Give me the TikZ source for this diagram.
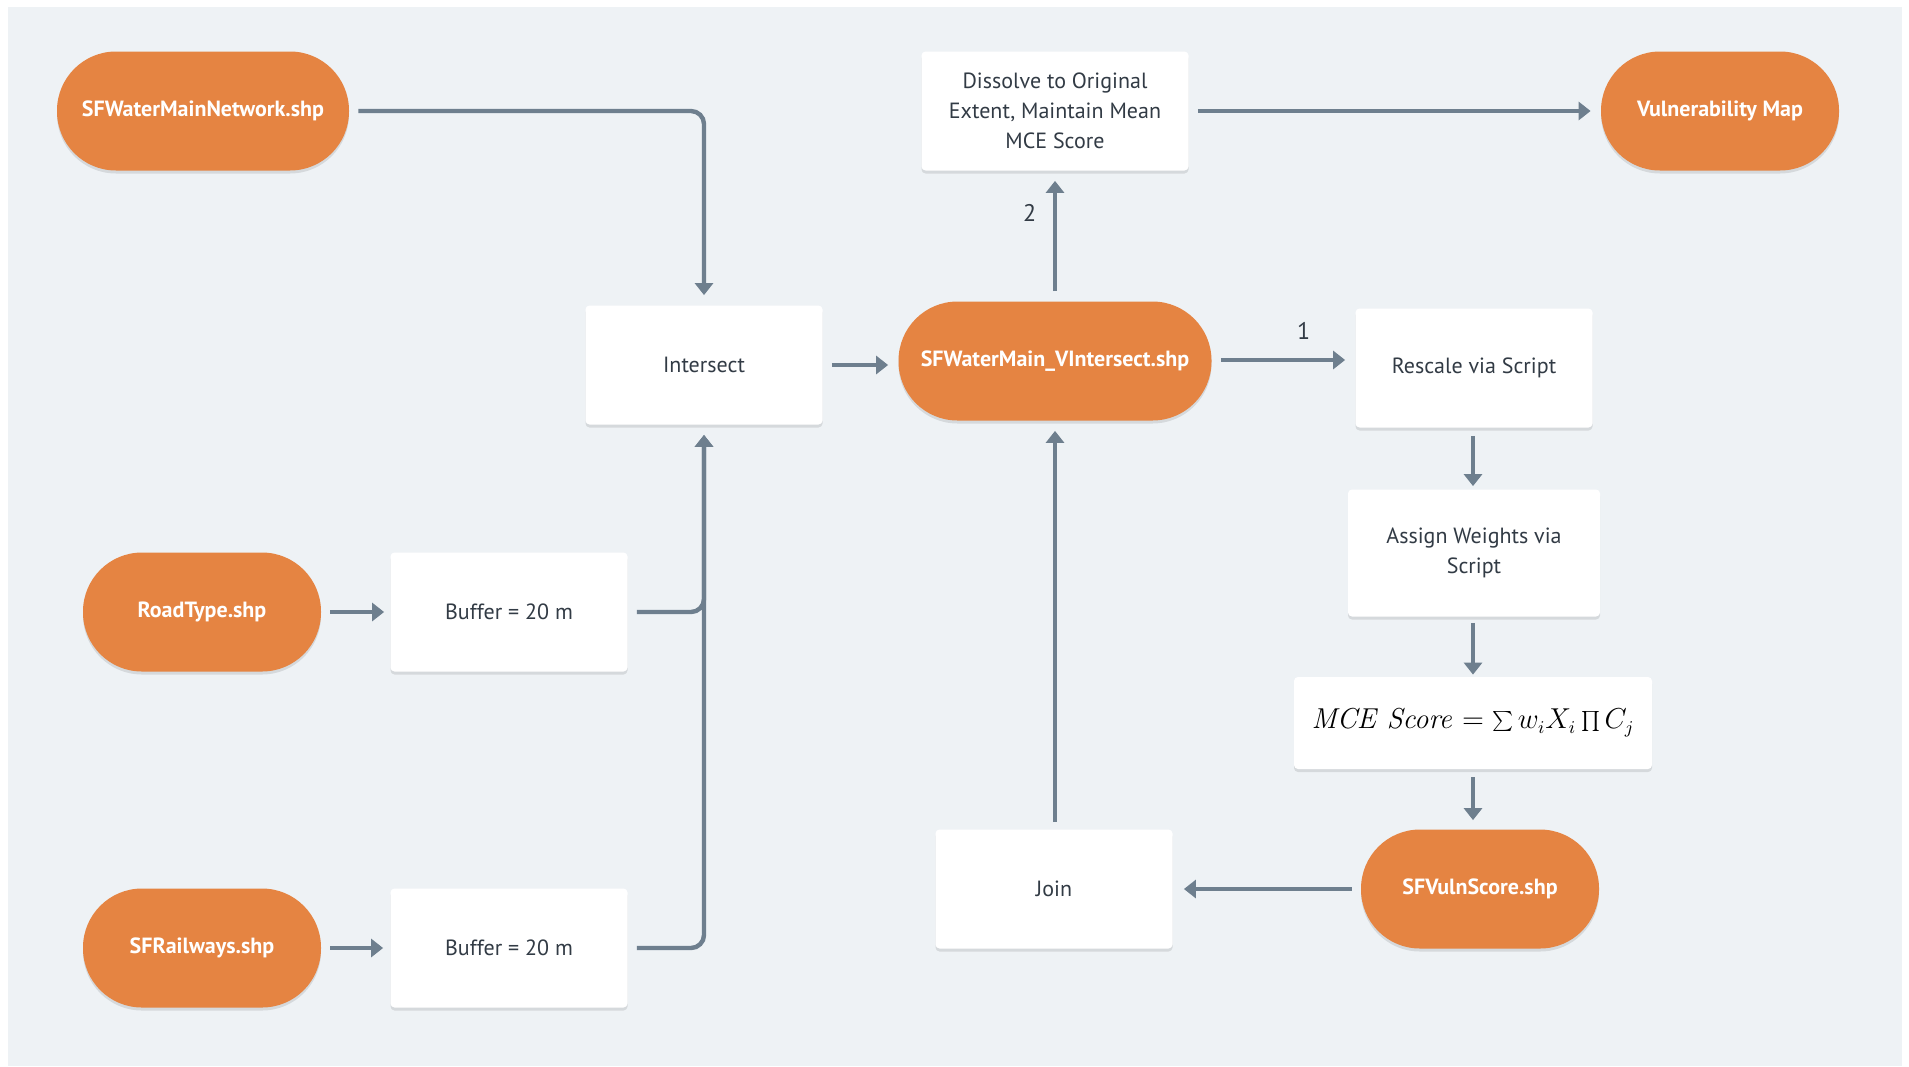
\documentclass[tikz,border=0pt]{standalone}
\usepackage[no-math]{fontspec}
\setmainfont{PT Sans}
\usetikzlibrary{arrows.meta,shadows}
\definecolor{panelbg}{HTML}{EEF2F5}
\definecolor{orangefill}{HTML}{E58442}
\definecolor{arrowc}{HTML}{6E7F8E}
\definecolor{textc}{HTML}{323B45}
\begin{document}
\begin{tikzpicture}[x=0.5pt,y=-0.5pt,
  shade/.style={drop shadow={shadow xshift=0pt,shadow yshift=-1.5pt,opacity=0.10,fill=black}},
  pill/.style={shade,rectangle,rounded corners=29.5pt,fill=orangefill,text=white,
    font=\fontsize{11}{15}\selectfont\bfseries,align=center,inner sep=0pt,
    minimum width=119pt,minimum height=59.5pt},
  box/.style={shade,rectangle,rounded corners=2pt,fill=white,text=textc,
    font=\fontsize{11}{15}\selectfont,align=center,inner sep=0pt,
    minimum width=118.5pt,minimum height=59.5pt},
  conn/.style={draw=arrowc,line width=2.2pt,-{Triangle[length=6pt,width=9pt]},
    shorten <=4.5pt,shorten >=5pt},
  lbl/.style={text=textc,font=\fontsize{12}{14}\selectfont}
]
\useasboundingbox (0,0) rectangle (1909,1066);
\fill[white] (0,0) rectangle (1909,1066);
\fill[panelbg] (8,7) rectangle (1902,1066);

% nodes
\node[pill,minimum width=146pt] (wmn) at (203,111) {SFWaterMainNetwork.shp};
\node[box,minimum width=133.5pt] (diss) at (1055,111) {Dissolve to Original\\Extent, Maintain Mean\\MCE Score};
\node[pill] (vmap) at (1720,111) {Vulnerability Map};
\node[box] (inter) at (704,365) {Intersect};
\node[pill,minimum width=156.5pt] (vint) at (1055,361) {SFWaterMain\_VIntersect.shp};
\node[box] (resc) at (1474,368) {Rescale via Script};
\node[box,minimum width=126pt,minimum height=63.5pt] (assign) at (1474,553) {Assign Weights via\\Script};
\node[box,minimum width=179pt,minimum height=46pt,text=black,font=\fontsize{13.5}{16}\selectfont] (mce) at (1473,723)
  {\raisebox{-2pt}{$\mathit{MCE\ Score} = \sum w_i X_i \prod C_j$}};
\node[pill] (vuln) at (1480,889) {SFVulnScore.shp};
\node[box] (join) at (1054,889) {Join};
\node[pill] (road) at (202,612) {RoadType.shp};
\node[box] (buf1) at (509,612) {Buffer = 20 m};
\node[pill] (rail) at (202,948) {SFRailways.shp};
\node[box] (buf2) at (509,948) {Buffer = 20 m};

% connectors
\draw[conn,rounded corners=6.5pt] (wmn.east) -- (wmn.east -| inter.north) -- (inter.north);
\draw[conn] (inter.east) -- (inter.east -| vint.west);
\draw[conn,shorten <=5pt] (vint.north) -- node[lbl,pos=0.68,left=5pt] {2} (diss.south);
\draw[conn] (vint.east |- 0,360) -- node[lbl,pos=0.64,above=6pt] {1} (resc.west |- 0,360);
\draw[conn] (diss.east) -- (vmap.west);
\draw[conn,shorten <=4pt,shorten >=1.5pt] (resc.south -| 1473,0) -- (assign.north -| 1473,0);
\draw[conn,shorten <=3pt,shorten >=1pt] (assign.south -| 1473,0) -- (mce.north -| 1473,0);
\draw[conn,shorten <=4pt,shorten >=4.5pt] (mce.south) -- (mce.south |- vuln.north);
\draw[conn,shorten >=5.5pt] (vuln.west) -- (join.east);
\draw[conn,shorten <=3.5pt] (join.north -| vint.south) -- (vint.south);
\draw[conn,shorten >=3pt] (road.east) -- (buf1.west);
\draw[conn,shorten >=3.5pt] (rail.east) -- (buf2.west);
\draw[conn,rounded corners=6.5pt] (buf1.east) -- (buf1.east -| inter.south) -- (inter.south);
\draw[conn,rounded corners=6.5pt] (buf2.east) -- (buf2.east -| inter.south) -- (inter.south);
\end{tikzpicture}
\end{document}
